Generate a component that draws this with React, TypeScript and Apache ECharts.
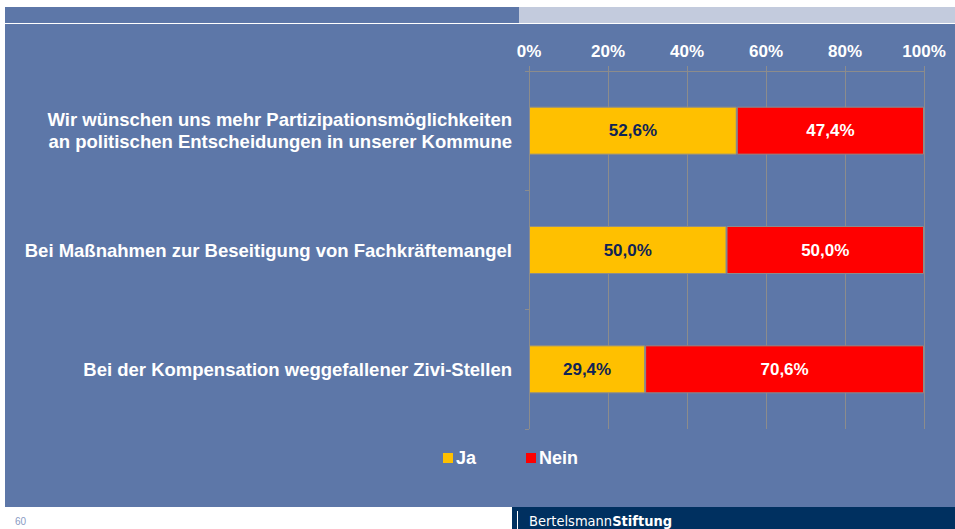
import React, { useEffect, useRef } from "react";
import * as echarts from "echarts";

const categories = [
  "Wir wünschen uns mehr Partizipationsmöglichkeiten\nan politischen Entscheidungen in unserer Kommune",
  "Bei Maßnahmen zur Beseitigung von Fachkräftemangel",
  "Bei der Kompensation weggefallener Zivi-Stellen",
];
const jaValues = [52.6, 50.0, 29.4];
const neinValues = [47.4, 50.0, 70.6];
const seriesNames = ["Ja", "Nein"];
const pageNumber = "60";

const FONT = "'Liberation Sans', Arial, sans-serif";
const LOGO_FONT = "'DejaVu Sans Condensed', 'Liberation Sans Narrow', sans-serif";

export default function App() {
  const ref = useRef<HTMLDivElement>(null);
  useEffect(() => {
    if (!ref.current) return;
    const chart = echarts.init(ref.current, null, { renderer: "svg" });
    const fmt = (p: any) => Number(p.value).toFixed(1).replace(".", ",") + "%";
    chart.setOption({
      animation: false,
      textStyle: { fontFamily: FONT },
      graphic: [
        { type: "rect", z: -10, silent: true, shape: { x: 5, y: 7, width: 514, height: 16 }, style: { fill: "#5D77A8" } },
        { type: "rect", z: -10, silent: true, shape: { x: 519, y: 7, width: 436, height: 16 }, style: { fill: "#C3CBDD" } },
        { type: "rect", z: -10, silent: true, shape: { x: 5, y: 24, width: 950, height: 483 }, style: { fill: "#5D77A8" } },
        { type: "rect", z: -10, silent: true, shape: { x: 512, y: 507, width: 443, height: 22 }, style: { fill: "#003060" } },
        { type: "line", z: 10, silent: true, shape: { x1: 517.5, y1: 511, x2: 517.5, y2: 529 }, style: { stroke: "#ffffff", lineWidth: 1 } },
        {
          type: "text", z: 10, silent: true, x: 15, y: 516,
          style: { text: pageNumber, fill: "#8A9BC4", fontSize: 10, fontFamily: FONT },
        },
        {
          type: "text", z: 10, silent: true, x: 529, y: 513,
          style: {
            text: "{a|Bertelsmann}{b|Stiftung}",
            rich: {
              a: { fill: "#ffffff", fontSize: 14.5, fontFamily: LOGO_FONT },
              b: { fill: "#ffffff", fontSize: 14.5, fontWeight: "bold", fontFamily: LOGO_FONT },
            },
          },
        },
      ],
      legend: {
        data: seriesNames,
        left: 438,
        top: 444,
        icon: "rect",
        itemWidth: 10,
        itemHeight: 10,
        itemGap: 50,
        itemStyle: { borderWidth: 0 },
        textStyle: { color: "#ffffff", fontWeight: "bold", fontSize: 18, fontFamily: FONT, padding: [0, 0, 0, -2] },
      },
      grid: { left: 529, right: 31, top: 71, bottom: 100, containLabel: false },
      xAxis: {
        type: "value",
        position: "top",
        min: 0,
        max: 100,
        interval: 20,
        axisLabel: {
          formatter: "{value}%",
          color: "#ffffff",
          fontWeight: "bold",
          fontSize: 17,
          fontFamily: FONT,
          margin: 11,
        },
        axisLine: { show: true, lineStyle: { color: "#8C8C8C", width: 1 } },
        axisTick: { show: true, length: 5, lineStyle: { color: "#8C8C8C" } },
        splitLine: { show: true, lineStyle: { color: "#8C8C8C", width: 1 } },
      },
      yAxis: {
        type: "category",
        inverse: true,
        data: categories,
        axisLine: { show: false },
        axisTick: { show: true, length: 4, lineStyle: { color: "#8C8C8C" } },
        axisLabel: {
          color: "#ffffff",
          fontWeight: "bold",
          fontSize: 18.5,
          fontFamily: FONT,
          margin: 17,
          lineHeight: 22,
          align: "right",
        },
      },
      series: [
        {
          name: seriesNames[0],
          type: "bar",
          stack: "total",
          barWidth: 48,
          data: jaValues,
          itemStyle: { color: "#FFC000", borderColor: "#8C8C8C", borderWidth: 1 },
          label: {
            show: true,
            position: "inside",
            formatter: fmt,
            color: "#0F2456",
            fontWeight: "bold",
            fontSize: 17,
            fontFamily: FONT,
          },
        },
        {
          name: seriesNames[1],
          type: "bar",
          stack: "total",
          barWidth: 48,
          data: neinValues,
          itemStyle: { color: "#FF0000", borderColor: "#8C8C8C", borderWidth: 1 },
          label: {
            show: true,
            position: "inside",
            formatter: fmt,
            color: "#ffffff",
            fontWeight: "bold",
            fontSize: 17,
            fontFamily: FONT,
          },
        },
      ],
    });
    return () => chart.dispose();
  }, []);
  return (
    <div
      ref={ref}
      style={{ position: "fixed", left: 0, top: 0, width: 955, height: 529, background: "#ffffff" }}
    />
  );
}
